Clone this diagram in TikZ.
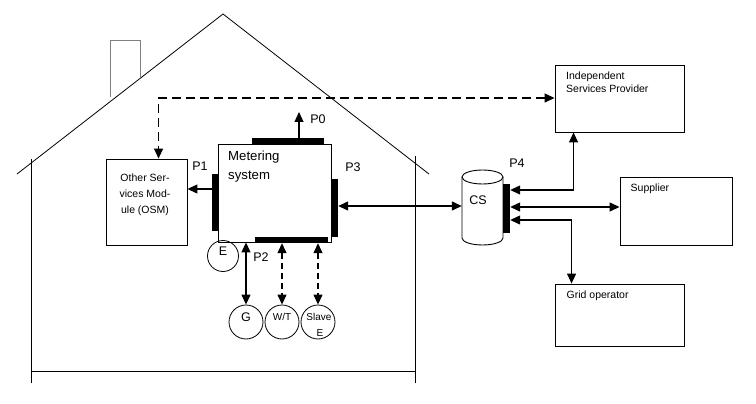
\documentclass[tikz,border=0pt]{standalone}
\usepackage{fontspec}
\setmainfont{Liberation Sans}
\usetikzlibrary{arrows.meta,calc}
\begin{document}
\begin{tikzpicture}[x=1pt,y=-1pt]
\tikzset{
 boxnode/.style={draw,line width=0.9pt,inner sep=0pt},
 portbar/.style={fill=black,inner sep=0pt},
 tip/.style={-{Triangle[length=10pt,width=9pt]}},
 dtip/.style={{Triangle[length=10pt,width=9pt]}-{Triangle[length=10pt,width=9pt]}},
 conn/.style={line width=1.2pt},
 dashline/.style={dash pattern=on 9pt off 5pt},
 shortdash/.style={dash pattern=on 6pt off 4pt},
 lbl/.style={font=\fontsize{12.5}{18}\selectfont, inner sep=0pt},
 small/.style={font=\fontsize{10.5}{13}\selectfont, inner sep=0pt},
 circ/.style={draw, circle, line width=0.8pt, minimum size=34pt, inner sep=0pt},
 house/.style={line width=0.8pt}
}
\useasboundingbox (0,0) rectangle (756,404);
% house
\draw[house] (17,174) -- (223,14) -- (429,174);
\draw[house] (31,159) -- (31,383);
\draw[house] (415,156) -- (415,383);
\draw[house] (31,371) -- (415,371);
\draw[line width=1pt, gray] (110,97) -- (110,41) -- (140,41) -- (140,78);
% boxes
\node[boxnode, minimum width=113pt, minimum height=98pt] (meter) at (274.5,193) {};
\node[lbl, anchor=north west, align=left, font=\fontsize{13.2}{18.5}\selectfont] (metertext) at (228,151) {Metering\\system};
\node[boxnode, minimum width=81pt, minimum height=86pt] (osm) at (146.5,202) {};
\node[small, align=center, font=\fontsize{10.5}{16}\selectfont] (osmtext) at (145,195) {Other Ser-\\vices Mod-\\ule (OSM)};
\node[boxnode, minimum width=129pt, minimum height=67pt] (isp) at (619.5,98.5) {};
\node[small, anchor=west, align=left] (isptext) at (566,82.5) {Independent\\Services Provider};
\node[boxnode, minimum width=112pt, minimum height=68pt] (supplier) at (676,211) {};
\node[small, anchor=west] (suppliertext) at (630.5,189) {Supplier};
\node[boxnode, minimum width=129pt, minimum height=62pt] (grid) at (619.5,315) {};
\node[small, anchor=west] (gridtext) at (566.5,296) {Grid operator};
% port bars
\node[portbar, minimum width=72pt, minimum height=6pt] (p0bar) at (288,141) {};
\node[portbar, minimum width=6pt, minimum height=57pt] (p1bar) at (215,202.5) {};
\node[portbar, minimum width=7pt, minimum height=58pt] (p3bar) at (334.5,208) {};
\node[portbar, minimum width=73pt, minimum height=6pt] (p2bar) at (291.5,240) {};
\node[portbar, minimum width=7pt, minimum height=49pt] (p4bar) at (506.5,208.5) {};
% port labels
\node[lbl] (p0) at (318,119) {P0};
\node[lbl] (p1) at (200,166) {P1};
\node[lbl] (p3) at (353,167) {P3};
\node[lbl] (p2) at (261,257) {P2};
\node[lbl] (p4) at (517,163) {P4};
% cylinder CS
\node[minimum width=41pt, minimum height=75pt, inner sep=0pt] (cs) at (482.5,207.5) {};
\fill[white] (462,177) rectangle (503,238);
\draw[line width=0.9pt] (462,177) -- (462,238) arc[start angle=180, end angle=360, x radius=20.5pt, y radius=7pt] -- (503,177);
\draw[line width=0.9pt] (482.5,177) ellipse [x radius=20.5pt, y radius=7pt];
\node[lbl] (cstext) at (478,200) {CS};
% circles
\node[circ, minimum size=31pt] (e) at (223,256) {};
\node[lbl] (etext) at (223,251) {E};
\node[circ] (g) at (246,322) {};
\node[lbl] (gtext) at (246,317) {G};
\node[circ] (wt) at (282,322) {};
\node[small, font=\fontsize{10}{12}\selectfont] (wttext) at (282,317) {W/T};
\node[circ] (sl) at (318,322) {};
\node[small, font=\fontsize{10}{12}\selectfont] (sltext1) at (319,317) {Slave};
\node[small, font=\fontsize{10}{12}\selectfont] (sltext2) at (320,333) {E};
% connectors
\coordinate (p0end) at (299,112);
\draw[conn, tip] (p0bar.north -| p0end) -- (p0end);
\draw[conn, tip] (p1bar.west |- 0,189) -- (osm.east |- 0,189);
\draw[conn, dtip] (p3bar.east |- 0,206) -- (cs.west |- 0,206);
\draw[conn, dtip] (meter.south -| g.north) -- (g.north);
\draw[conn, dtip, shortdash] (p2bar.south -| wt.north) -- (wt.north);
\draw[conn, dtip, shortdash] (p2bar.south -| sl.north) -- (sl.north);
\draw[conn, dtip] (p4bar.east |- 0,190) -| ($(isp.south west)+(19,0)$);
\draw[conn, dtip] (p4bar.east |- 0,207) -- (supplier.west |- 0,207);
\draw[conn, dtip] (p4bar.east |- 0,220) -| ($(grid.north west)+(17,0)$);
\draw[conn, dtip, dashline] (isp.west |- 0,98) -| ($(osm.north west)+(53,0)$);
\end{tikzpicture}
\end{document}
